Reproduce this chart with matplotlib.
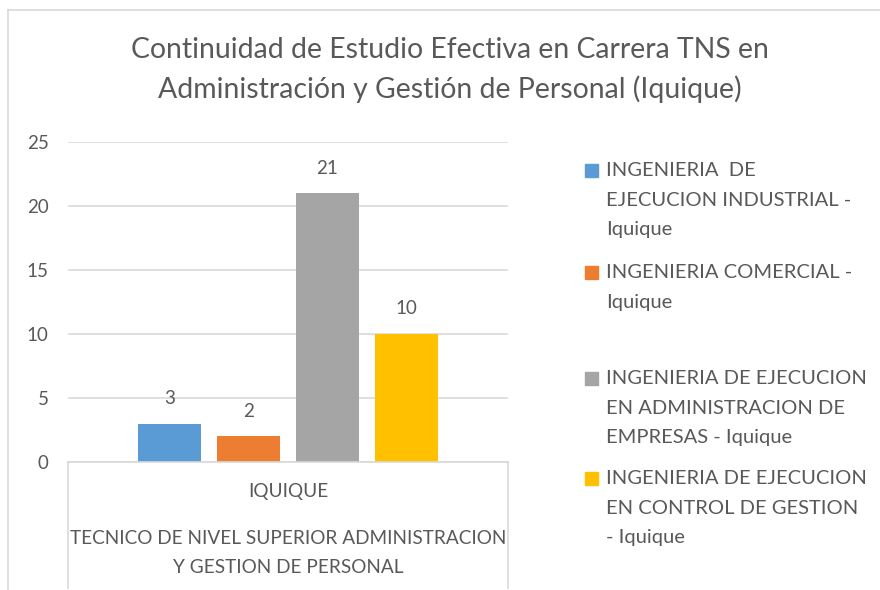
import matplotlib
matplotlib.use('Agg')
import matplotlib.pyplot as plt
from matplotlib.lines import Line2D
from matplotlib.patches import Rectangle

# ---- data ----
title = 'Continuidad de Estudio Efectiva en Carrera TNS en\nAdministración y Gestión de Personal (Iquique)'
series_labels = [
    'INGENIERIA  DE\nEJECUCION INDUSTRIAL -\nIquique',
    'INGENIERIA COMERCIAL -\nIquique',
    'INGENIERIA DE EJECUCION\nEN ADMINISTRACION DE\nEMPRESAS - Iquique',
    'INGENIERIA DE EJECUCION\nEN CONTROL DE GESTION\n- Iquique',
]
values = [3, 2, 21, 10]
colors = ['#5b9bd5', '#ed7d31', '#a5a5a5', '#ffc000']
category = 'IQUIQUE'
group = 'TECNICO DE NIVEL SUPERIOR ADMINISTRACION\nY GESTION DE PERSONAL'
yticks = [0, 5, 10, 15, 20, 25]

plt.rcParams['font.family'] = ['Lato', 'DejaVu Sans']
txt = '#595959'
grid = '#d9d9d9'

fig = plt.figure(figsize=(8.8, 5.9), dpi=100)
W, H = 880, 590

def fx(px):
    return px / W

def fy(py):
    return 1 - py / H

# outer chart border (top and left)
fig.add_artist(Line2D([fx(8), 1], [fy(10), fy(10)], color=grid, lw=1.2))
fig.add_artist(Line2D([fx(8), fx(8)], [fy(10), 0], color=grid, lw=1.2))

fig.text(fx(450), fy(70), title, ha='center', va='center', fontsize=20.4,
         color=txt, linespacing=1.55)

ax = fig.add_axes([fx(68), fy(462), fx(508) - fx(68), fy(142) - fy(462)])
xs = list(range(len(values)))
bars = ax.bar(xs, values, width=0.79, color=colors)
for x, v in zip(xs, values):
    ax.annotate(str(v), (x, v), xytext=(0, 18), textcoords='offset points',
                ha='center', va='center', fontsize=13.5, color=txt)

half = 440 / 79 / 2
ax.set_xlim(1.5 - half, 1.5 + half)
ax.set_ylim(0, 25)
ax.set_yticks(yticks)
ax.set_yticklabels([str(t) for t in yticks], fontsize=13.5, color=txt)
ax.tick_params(axis='y', length=0, pad=14)
ax.set_xticks([])
ax.grid(axis='y', color=grid, lw=1.2)
ax.set_axisbelow(True)
for s in ['top', 'right', 'left']:
    ax.spines[s].set_visible(False)
ax.spines['bottom'].set_color(grid)
ax.spines['bottom'].set_linewidth(1.2)

# category axis box
box_h = (588 - 462) / 320
for xa in [0, 1]:
    ax.add_artist(Line2D([xa, xa], [0, -box_h], transform=ax.transAxes,
                         color=grid, lw=1.2, clip_on=False))
ax.text(0.5, -(492 - 462) / 320, category, transform=ax.transAxes,
        ha='center', va='center', fontsize=13.7, color=txt)
ax.text(0.5, -(553 - 462) / 320, group, transform=ax.transAxes,
        ha='center', va='center', fontsize=13.7, color=txt, linespacing=1.85)

# legend
centers = [170, 272, 378, 478]
for lab, c, yc in zip(series_labels, colors, centers):
    fig.add_artist(Rectangle((fx(585), fy(yc + 7)), fx(13), 13 / H,
                             color=c, transform=fig.transFigure))
    fig.text(fx(606), fy(yc - 8), lab, ha='left', va='top', fontsize=14.5,
             color=txt, linespacing=1.9)

fig.savefig('out.png', dpi=100)
